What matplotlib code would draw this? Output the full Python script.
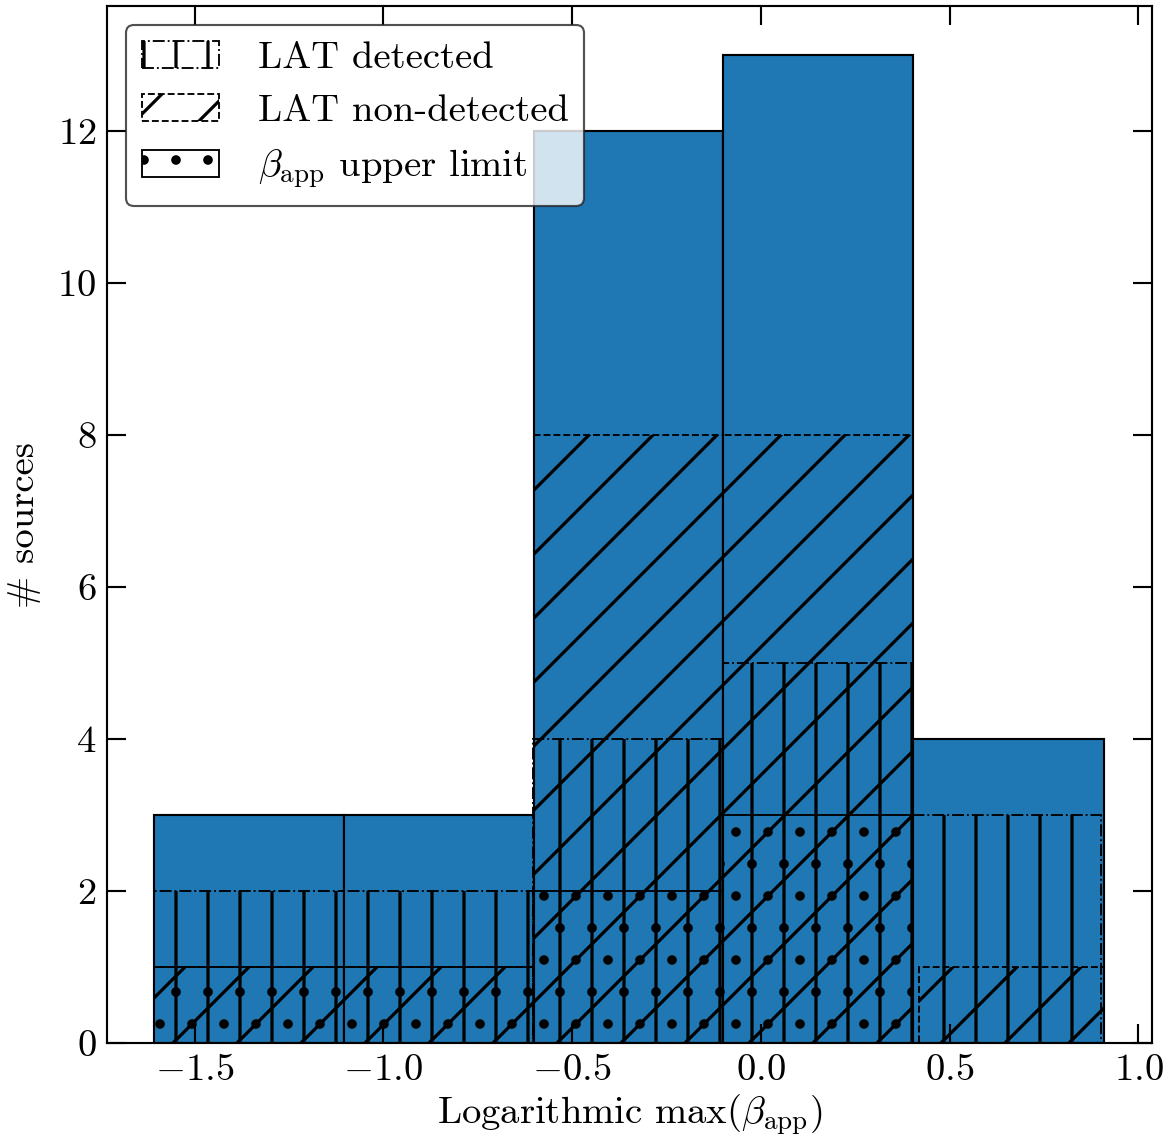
import matplotlib
matplotlib.use("Agg")
import matplotlib.pyplot as plt
import numpy as np

plt.rcParams['font.family'] = 'serif'
plt.rcParams['font.serif'] = ['cmr10']
plt.rcParams['mathtext.fontset'] = 'cm'
plt.rcParams['axes.formatter.use_mathtext'] = True
plt.rcParams['font.size'] = 14.5
plt.rcParams['hatch.linewidth'] = 1.2

# histogram bins (left/right edges) and counts
all_left = [-1.606, -1.104, -0.600, -0.101, 0.403]
all_right = [-1.104, -0.600, -0.101, 0.403, 0.910]
all_counts = [3, 3, 12, 13, 4]

det_left = [-1.606, -1.104, -0.603, -0.101, 0.400]
det_right = [-1.104, -0.603, -0.101, 0.400, 0.902]
det_counts = [2, 2, 4, 5, 3]

nondet_left = [-1.606, -1.104, -0.600, -0.101, 0.419]
nondet_right = [-1.104, -0.600, -0.101, 0.403, 0.910]
nondet_counts = [1, 1, 8, 8, 1]

ul_left = [-1.606, -1.104, -0.600, -0.101, 0.403]
ul_right = [-1.104, -0.600, -0.101, 0.403, 0.910]
ul_counts = [1, 1, 2, 3, 0]


def draw_bars(ax, left, right, counts, **kw):
    left = np.asarray(left)
    width = np.asarray(right) - left
    return ax.bar(left, counts, width=width, align='edge', **kw)


fig = plt.figure(figsize=(1163 / 192, 1135 / 192), dpi=192)
ax = fig.add_axes([0.092, 0.081, 0.8985, 0.9137])

draw_bars(ax, all_left, all_right, all_counts, color='#1f77b4', edgecolor='k', linewidth=0.8)
draw_bars(ax, det_left, det_right, det_counts, fill=False, edgecolor='k', hatch='|',
          linestyle='-.', linewidth=0.7, label='LAT detected')
draw_bars(ax, nondet_left, nondet_right, nondet_counts, fill=False, edgecolor='k', hatch='/',
          linestyle='--', linewidth=0.7, label='LAT non-detected')
draw_bars(ax, ul_left, ul_right, ul_counts, fill=False, edgecolor='k', hatch='.',
          linestyle='-', linewidth=0.7, label=r'$\beta_{\rm app}$ upper limit')

ax.set_xlabel(r'Logarithmic max($\beta_{\rm app}$)', labelpad=2)
ax.set_ylabel(r'# sources', labelpad=6)
ax.set_xticks([-1.5, -1.0, -0.5, 0.0, 0.5, 1.0])
ax.set_yticks([0, 2, 4, 6, 8, 10, 12])
ax.tick_params(direction='in', top=True, right=True, length=7, width=0.8, pad=4)

leg = ax.legend(loc='upper left', fancybox=True, framealpha=0.8, edgecolor='0.15',
                handlelength=2.0, handletextpad=1.0, borderaxespad=0.5)
leg.get_frame().set_linewidth(0.8)

fig.savefig('out.png', dpi=192)
